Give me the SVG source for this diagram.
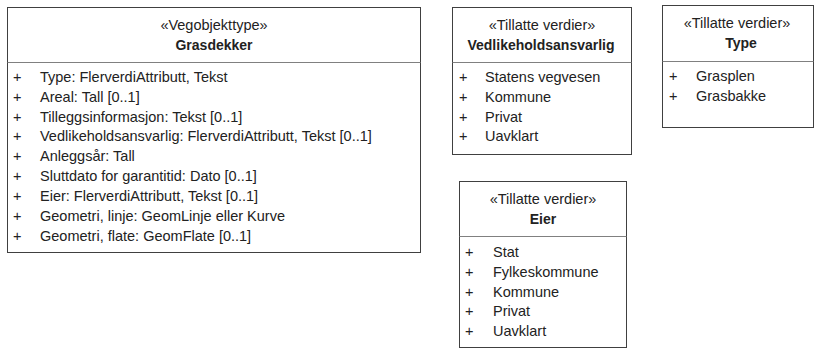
<svg xmlns="http://www.w3.org/2000/svg" width="815" height="349" viewBox="0 0 815 349">
<style>
.box{fill:#fff;stroke:#404040;stroke-width:1}
.div{stroke:#808080;stroke-width:1}
text{font-family:"Liberation Sans",Arial,sans-serif;font-size:14.5px;fill:#222}
.c{text-anchor:middle}
.b{font-weight:bold;font-size:14px}
</style>
<rect width="815" height="349" fill="#fff"/>
<g id="Grasdekker">
<rect class="box" x="7.5" y="7.5" width="413" height="245"/>
<line class="div" x1="7.5" y1="62.5" x2="420.5" y2="62.5"/>
<text class="c" x="214" y="30">«Vegobjekttype»</text>
<text class="c b" x="214" y="50">Grasdekker</text>
<text x="13" y="82">+</text><text x="40" y="82">Type: FlerverdiAttributt, Tekst</text>
<text x="13" y="102">+</text><text x="40" y="102">Areal: Tall [0..1]</text>
<text x="13" y="122">+</text><text x="40" y="122">Tilleggsinformasjon: Tekst [0..1]</text>
<text x="13" y="141">+</text><text x="40" y="141">Vedlikeholdsansvarlig: FlerverdiAttributt, Tekst [0..1]</text>
<text x="13" y="161">+</text><text x="40" y="161">Anleggsår: Tall</text>
<text x="13" y="181">+</text><text x="40" y="181">Sluttdato for garantitid: Dato [0..1]</text>
<text x="13" y="201">+</text><text x="40" y="201">Eier: FlerverdiAttributt, Tekst [0..1]</text>
<text x="13" y="221">+</text><text x="40" y="221">Geometri, linje: GeomLinje eller Kurve</text>
<text x="13" y="241">+</text><text x="40" y="241">Geometri, flate: GeomFlate [0..1]</text>
</g>
<g id="Vedlikeholdsansvarlig">
<rect class="box" x="452.5" y="7.5" width="179" height="147"/>
<line class="div" x1="452.5" y1="62.5" x2="631.5" y2="62.5"/>
<text class="c" x="542" y="30">«Tillatte verdier»</text>
<text class="c b" x="541" y="50">Vedlikeholdsansvarlig</text>
<text x="459" y="82">+</text><text x="485" y="82">Statens vegvesen</text>
<text x="459" y="102">+</text><text x="485" y="102">Kommune</text>
<text x="459" y="122">+</text><text x="485" y="122">Privat</text>
<text x="459" y="141">+</text><text x="485" y="141">Uavklart</text>
</g>
<g id="Type">
<rect class="box" x="662.5" y="5.5" width="151" height="122"/>
<line class="div" x1="662.5" y1="61.5" x2="813.5" y2="61.5"/>
<text class="c" x="737" y="28">«Tillatte verdier»</text>
<text class="c b" x="741" y="48">Type</text>
<text x="669" y="81">+</text><text x="696" y="81">Grasplen</text>
<text x="669" y="101">+</text><text x="696" y="101">Grasbakke</text>
</g>
<g id="Eier">
<rect class="box" x="459.5" y="181.5" width="167" height="166"/>
<line class="div" x1="459.5" y1="236.5" x2="626.5" y2="236.5"/>
<text class="c" x="543" y="204">«Tillatte verdier»</text>
<text class="c b" x="543" y="224">Eier</text>
<text x="465" y="257">+</text><text x="493" y="257">Stat</text>
<text x="465" y="277">+</text><text x="493" y="277">Fylkeskommune</text>
<text x="465" y="297">+</text><text x="493" y="297">Kommune</text>
<text x="465" y="316">+</text><text x="493" y="316">Privat</text>
<text x="465" y="336">+</text><text x="493" y="336">Uavklart</text>
</g>
<g id="connectors"/>
</svg>
